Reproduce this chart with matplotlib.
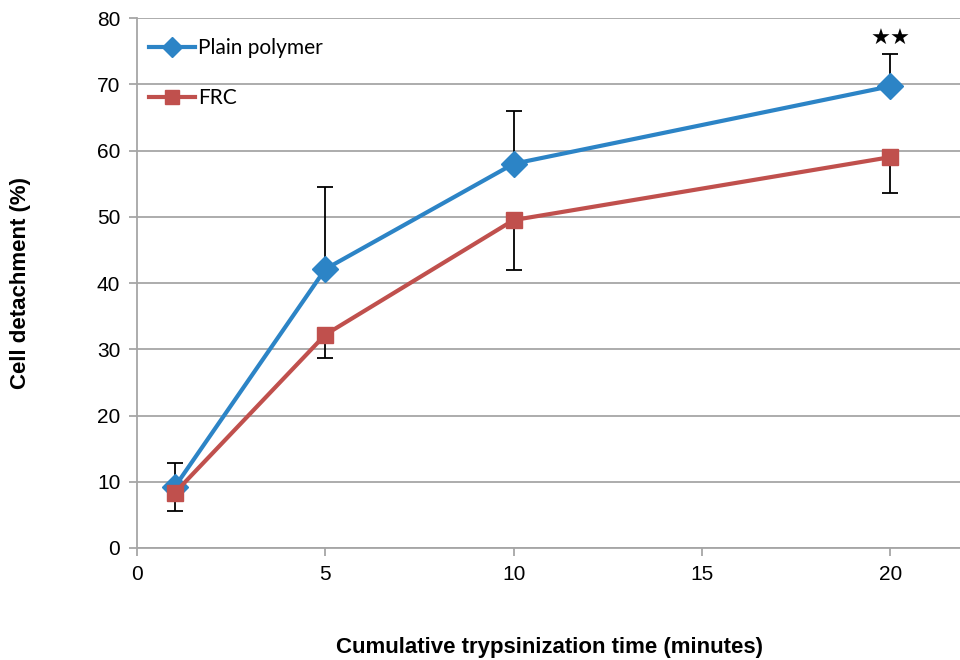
import matplotlib
matplotlib.use('Agg')
import matplotlib.pyplot as plt
import numpy as np

# data
times = [1, 5, 10, 20]
plain = [9.2, 42.1, 58.0, 69.7]
plain_err_up = [3.6, 12.4, 8.0, 4.9]
frc = [8.3, 32.2, 49.5, 59.0]
frc_err_down = [2.7, 3.5, 7.5, 5.4]

grid_col = '#A6A6A6'
blue = '#2C84C6'
red = '#C0504D'

plt.rcParams['font.family'] = ['Liberation Sans', 'DejaVu Sans']

fig = plt.figure(figsize=(9.6, 6.6), dpi=100)
ax = fig.add_axes([0.1427, 0.1697, 0.8573, 0.803])

ax.errorbar(times, plain, yerr=[np.zeros(len(plain)), plain_err_up], fmt='none',
            ecolor='black', elinewidth=1.3, capsize=6, capthick=1.3, zorder=2)
ax.errorbar(times, frc, yerr=[frc_err_down, np.zeros(len(frc))], fmt='none',
            ecolor='black', elinewidth=1.3, capsize=6, capthick=1.3, zorder=2)

ax.plot(times, plain, color=blue, lw=3, marker='D', ms=13, mec=blue, mfc=blue,
        label='Plain polymer', zorder=3)
ax.plot(times, frc, color=red, lw=3, marker='s', ms=12, mec=red, mfc=red,
        label='FRC', zorder=4)

ax.text(20, 76.9, '\u2605\u2605', ha='center', va='center', fontsize=16,
        family=['DejaVu Sans'])

ax.set_xlim(0, 21.85)
ax.set_ylim(0, 80)
ax.set_xticks([0, 5, 10, 15, 20])
ax.set_yticks(range(0, 81, 10))
ax.yaxis.grid(True, color=grid_col, lw=1.3)
ax.set_axisbelow(True)
for s in ['top', 'right']:
    ax.spines[s].set_visible(False)
for s in ['left', 'bottom']:
    ax.spines[s].set_color(grid_col)
    ax.spines[s].set_linewidth(1.3)
ax.tick_params(axis='both', colors=grid_col, width=1.3, length=6, labelsize=15,
               labelcolor='black', pad=6)

fig.text(0.572, (660 - 647) / 660, 'Cumulative trypsinization time (minutes)',
         ha='center', va='center', fontsize=16, fontweight='bold')
fig.text(0.021, 0.571, 'Cell detachment (%)', ha='center', va='center',
         rotation=90, fontsize=16, fontweight='bold')

leg = ax.legend(loc='upper left', bbox_to_anchor=(-0.003, 0.99), frameon=False,
                prop={'family': 'Lato', 'size': 15}, handlelength=2.2,
                handletextpad=0.15, labelspacing=1.45, borderaxespad=0.3,
                markerscale=0.8)

fig.savefig('out.png', dpi=100)
